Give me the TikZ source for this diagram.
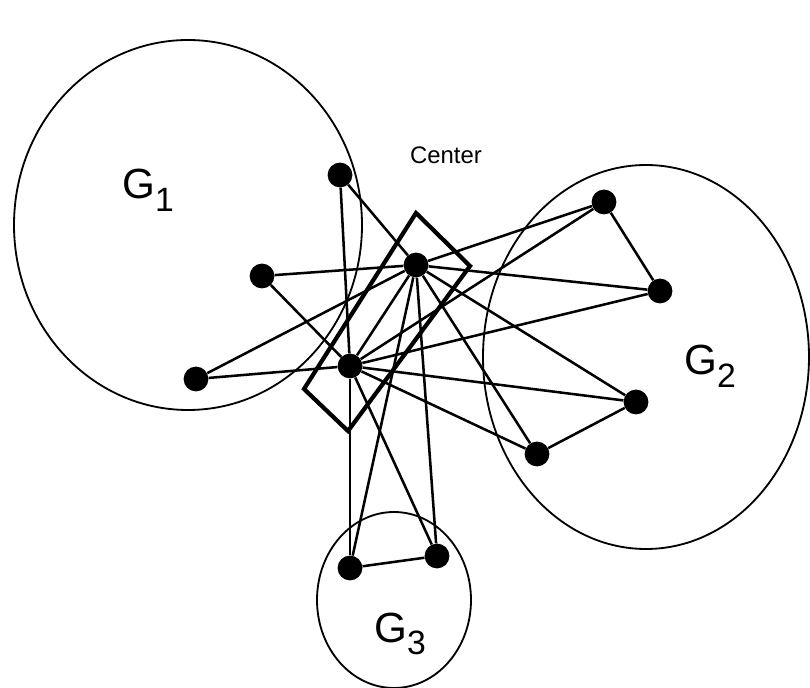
\documentclass[tikz,border=0pt]{standalone}
\usepackage{fontspec}
\setmainfont{Liberation Sans}
\usetikzlibrary{positioning}
\newcommand{\gsub}[1]{\raisebox{-0.3em}{\fontsize{24}{26}\selectfont #1}}

\begin{document}
\begin{tikzpicture}[
    x=0.025cm, y=-0.025cm,
    vertex/.style={circle, fill=black, inner sep=0pt, minimum size=0.62cm},
    link/.style={line width=1.8pt, draw=black},
    cluster/.style={line width=1.3pt, draw=black},
    frame/.style={line width=3pt, draw=black, line join=miter},
    glabel/.style={font=\fontsize{30}{34}\selectfont, inner sep=0pt},
    clabel/.style={font=\fontsize{17}{20}\selectfont, inner sep=0pt}
]
\useasboundingbox (0,0) rectangle (810,688);

% Clusters
\draw [cluster] (188,225) ellipse [x radius=174, y radius=185];
\draw [cluster] (646,357) ellipse [x radius=163, y radius=192];
\draw [cluster] (394,600) ellipse [x radius=77, y radius=88];

% Nodes
\node (c1) [vertex] at (416,265) {};
\node (c2) [vertex] at (350,366) {};
\node (a1) [vertex] at (340,175) {};
\node (a2) [vertex] at (262,276) {};
\node (a3) [vertex] at (196,379) {};
\node (b1) [vertex] at (604,202) {};
\node (b2) [vertex] at (660,291) {};
\node (b3) [vertex] at (636,402) {};
\node (b4) [vertex] at (537,454) {};
\node (g1) [vertex] at (350,568) {};
\node (g2) [vertex] at (437,556) {};

% Labels
\node (l1) [glabel] at (148,190) {G\gsub{1}};
\node (l2) [glabel] at (710,366) {G\gsub{2}};
\node (l3) [glabel] at (400,634) {G\gsub{3}};
\node (lc) [clabel] at (446,155) {Center};

% Center box
\coordinate (r1) at (416,213);
\coordinate (r2) at (470,266);
\coordinate (r3) at (348,431);
\coordinate (r4) at (304,389);
\draw [frame] (r1) -- (r2) -- (r3) -- (r4) -- cycle;

% Edges
\foreach \v in {a1,a2,a3,c2,b1,b2,b3,b4,g1,g2}
    \draw [link] (c1) -- (\v);
\foreach \v in {a1,a2,a3,b1,b2,b3,b4,g1,g2}
    \draw [link] (c2) -- (\v);
\draw [link] (b1) -- (b2);
\draw [link] (b3) -- (b4);
\draw [link] (g1) -- (g2);

\end{tikzpicture}
\end{document}
